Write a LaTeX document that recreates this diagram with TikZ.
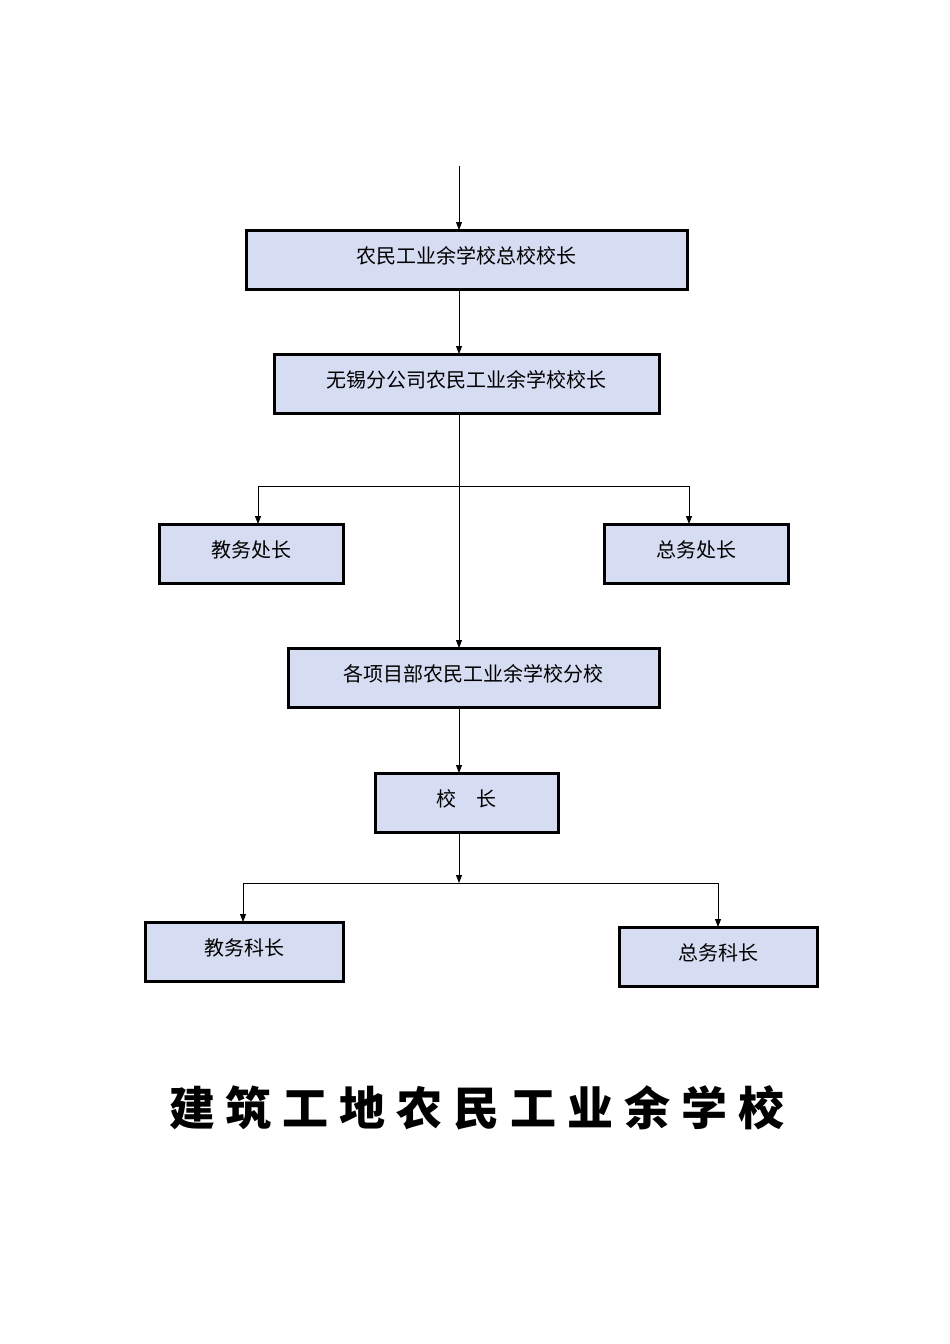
\documentclass[tikz,border=0pt]{standalone}
\usepackage{fontspec}
\newfontfamily\cjk{Noto Sans CJK SC}
\usetikzlibrary{arrows.meta}
\definecolor{boxfill}{HTML}{D6DCF2}
\tikzset{
 box/.style={draw=black,line width=3pt,fill=boxfill,inner sep=0pt},
 lbl/.style={font=\cjk\fontsize{20}{24}\selectfont},
 arr/.style={-{Triangle[length=8pt,width=6pt]},line width=0.8pt},
 ln/.style={line width=0.8pt}
}
\begin{document}
\begin{tikzpicture}[x=1pt,y=-1pt]
\useasboundingbox (0,0) rectangle (950,1344);
\newcommand\bx[6]{\draw[box] (#2,#3) rectangle (#4,#5); \node[lbl] (#1) at ({(#2+#4)/2},{(#3+#5)/2-4}) {#6};
 \coordinate (#1t) at (459,#3); \coordinate (#1b) at (459,#5);}
\bx{b1}{246}{230}{687}{289}{农民工业余学校总校校长}
\bx{b2}{274}{354}{659}{413}{无锡分公司农民工业余学校校长}
\bx{b3}{159}{524}{343}{583}{教务处长}
\bx{b4}{604}{524}{788}{583}{总务处长}
\bx{b5}{288}{648}{659}{707}{各项目部农民工业余学校分校}
\bx{b6}{375}{773}{558}{832}{校\quad 长}
\bx{b7}{145}{922}{343}{981}{教务科长}
\bx{b8}{619}{927}{817}{986}{总务科长}
\coordinate (top) at (459,166);
\draw[arr] (top) -- (b1t);
\draw[arr] (b1b) -- (b2t);
\draw[arr] (b2b) -- (b5t);
\coordinate (h1l) at (258,486); \coordinate (h1r) at (689,486);
\coordinate (b3t) at (258,524); \coordinate (b4t) at (689,524);
\draw[ln] (h1l) -- (h1r);
\draw[arr] (h1l) -- (b3t);
\draw[arr] (h1r) -- (b4t);
\draw[arr] (b5b) -- (b6t);
\coordinate (h2) at (459,883);
\draw[arr] (b6b) -- (h2);
\coordinate (h2l) at (243,883); \coordinate (h2r) at (718,883);
\coordinate (b7t) at (243,922); \coordinate (b8t) at (718,927);
\draw[ln] (h2l) -- (h2r);
\draw[arr] (h2l) -- (b7t);
\draw[arr] (h2r) -- (b8t);
\node[font=\cjk\bfseries\fontsize{46}{50}\selectfont] (title) at (477,1108) {建\hspace{11pt}筑\hspace{11pt}工\hspace{11pt}地\hspace{11pt}农\hspace{11pt}民\hspace{11pt}工\hspace{11pt}业\hspace{11pt}余\hspace{11pt}学\hspace{11pt}校};
\end{tikzpicture}
\end{document}
